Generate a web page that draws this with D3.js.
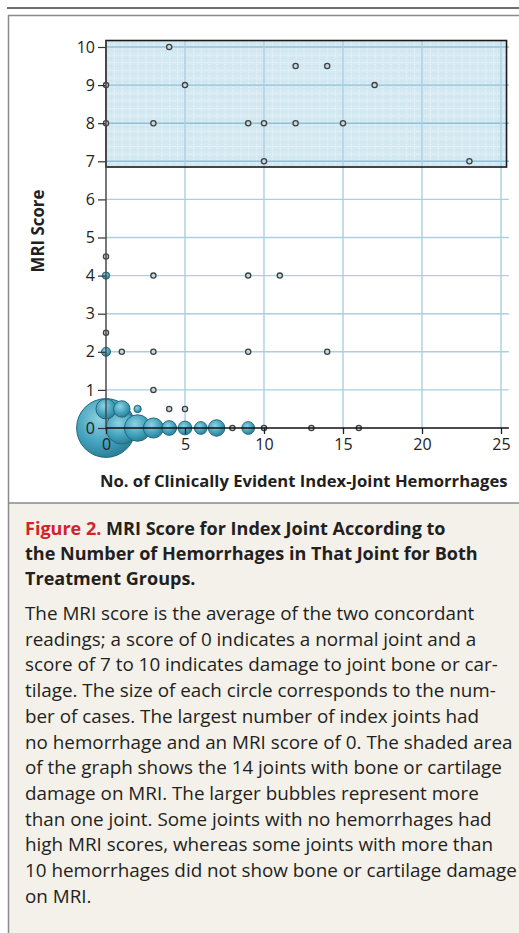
<!DOCTYPE html>
<html><head><meta charset="utf-8">
<script src="https://cdn.jsdelivr.net/npm/d3@7"></script>
<style>html,body{margin:0;padding:0;background:#fff;} svg{display:block;}</style>
</head><body>
<svg id="fig" width="519" height="933"></svg>
<script>
// ---- data ----
const hemorrhages = [0,1,2,3,4,5,6,7,8,9,10,13,16, 0,1,2,4,5, 3, 0,1,3,9,14,0, 0,3,9,11,0, 0,3,9,10,12,15,0,5,17,12,14,4,10,23];
const mriScores   = [0,0,0,0,0,0,0,0,0,0,0,0,0, 0.5,0.5,0.5,0.5,0.5, 1, 2,2,2,2,2,2.5, 4,4,4,4,4.5, 8,8,8,8,8,8,9,9,9,9.5,9.5,10,7,7];
const jointCounts = [128,38,26,15,8,7,6,10,1,6,1,1,1, 15,10,2,1,1, 1, 3,1,1,1,1,1, 2,1,1,1,1, 1,1,1,1,1,1,1,1,1,1,1,1,1,1];
const xTickValues = [0,5,10,15,20,25];
const yTickValues = [0,1,2,3,4,5,6,7,8,9,10];
const shadedX = [0, 25.35];
const shadedY = [6.85, 10.17];
const xAxisTitle = "No. of Clinically Evident Index-Joint Hemorrhages";
const yAxisTitle = "MRI Score";
const figureLabel = "Figure 2.";
const titleLines = [" MRI Score for Index Joint According to",
  "the Number of Hemorrhages in That Joint for Both",
  "Treatment Groups."];
const bodyLines = [
  "The MRI score is the average of the two concordant",
  "readings; a score of 0 indicates a normal joint and a",
  "score of 7 to 10 indicates damage to joint bone or car-",
  "tilage. The size of each circle corresponds to the num-",
  "ber of cases. The largest number of index joints had",
  "no hemorrhage and an MRI score of 0. The shaded area",
  "of the graph shows the 14 joints with bone or cartilage",
  "damage on MRI. The larger bubbles represent more",
  "than one joint. Some joints with no hemorrhages had",
  "high MRI scores, whereas some joints with more than",
  "10 hemorrhages did not show bone or cartilage damage",
  "on MRI."];

const FONT = "'Open Sans', 'Noto Sans', sans-serif";
const svg = d3.select("#fig");
function fit(sel, target) {
  const w = sel.node().getComputedTextLength();
  const fs = parseFloat(sel.attr("font-size"));
  return fs * target / w;
}

// ---- frame ----
svg.append("rect").attr("x", 8).attr("y", 503).attr("width", 511).attr("height", 430).attr("fill", "#f4f1ea");
svg.append("line").attr("x1", 7).attr("x2", 519).attr("y1", 8).attr("y2", 8).attr("stroke", "#6e6e6e").attr("stroke-width", 2);
svg.append("line").attr("x1", 8).attr("x2", 519).attr("y1", 15.5).attr("y2", 15.5).attr("stroke", "#8a8a8a").attr("stroke-width", 1.5);
svg.append("line").attr("x1", 8.5).attr("x2", 8.5).attr("y1", 15).attr("y2", 933).attr("stroke", "#8a8a8a").attr("stroke-width", 1.5);
svg.append("line").attr("x1", 8).attr("x2", 519).attr("y1", 503).attr("y2", 503).attr("stroke", "#8a8a8a").attr("stroke-width", 1.5);

// ---- scales ----
const x = d3.scaleLinear().domain([0, 25]).range([106, 501]);
const y = d3.scaleLinear().domain([0, 10]).range([428, 47]);
const r = d3.scaleSqrt().domain([0, d3.max(jointCounts)]).range([0, 29.4]);

const defs = svg.append("defs");
const grad = defs.append("radialGradient").attr("id", "bub").attr("cx", "40%").attr("cy", "35%").attr("r", "70%");
grad.append("stop").attr("offset", "0%").attr("stop-color", "#8fd2e2");
grad.append("stop").attr("offset", "60%").attr("stop-color", "#42a1bc");
grad.append("stop").attr("offset", "100%").attr("stop-color", "#287a93");
const pw = (x(0.5) - x(0)), ph = (y(0) - y(0.2));
const pat = defs.append("pattern").attr("id", "paper").attr("patternUnits", "userSpaceOnUse")
  .attr("x", x(0)).attr("y", y(10)).attr("width", pw).attr("height", ph);
pat.append("rect").attr("width", pw).attr("height", ph).attr("fill", "#d4e9f2");
pat.append("line").attr("x1", 0).attr("x2", pw).attr("y1", 0.5).attr("y2", 0.5).attr("stroke", "#f2f8fb").attr("stroke-width", 1).attr("stroke-dasharray", "1,1");
pat.append("line").attr("x1", 0.5).attr("x2", 0.5).attr("y1", 0).attr("y2", ph).attr("stroke", "#f2f8fb").attr("stroke-width", 1).attr("stroke-dasharray", "1,1");
pat.append("line").attr("x1", 0).attr("x2", pw).attr("y1", ph/2).attr("y2", ph/2).attr("stroke", "#bfdcea").attr("stroke-width", 0.8).attr("stroke-dasharray", "1,1.5");

// shaded area fill
const sx0 = x(shadedX[0]), sx1 = x(shadedX[1]), sy0 = y(shadedY[1]), sy1 = y(shadedY[0]);
svg.append("rect").attr("x", sx0).attr("y", sy0).attr("width", sx1 - sx0).attr("height", sy1 - sy0).attr("fill", "url(#paper)");

// grid
const grid = svg.append("g");
grid.selectAll("line.h").data(yTickValues.filter(d => d > 0)).join("line")
  .attr("x1", x(0)).attr("x2", x(25.5)).attr("y1", d => y(d)).attr("y2", d => y(d))
  .attr("stroke", d => d >= 7 ? "#8fc0d6" : "#a9cfe1").attr("stroke-width", 1.4);
grid.selectAll("line.v").data(xTickValues.filter(d => d > 0)).join("line")
  .attr("x1", d => x(d)).attr("x2", d => x(d)).attr("y1", y(0)).attr("y2", y(shadedY[1]))
  .attr("stroke", "#a9cfe1").attr("stroke-width", 1.4);

// shaded border
svg.append("rect").attr("x", sx0).attr("y", sy0).attr("width", sx1 - sx0).attr("height", sy1 - sy0)
  .attr("fill", "none").attr("stroke", "#1a1a1a").attr("stroke-width", 1.6);

// bubbles
const pts = hemorrhages.map((h, i) => ({h, m: mriScores[i], n: jointCounts[i]}))
  .sort((a, b) => b.n - a.n);
svg.append("g").selectAll("circle").data(pts).join("circle")
  .attr("cx", d => x(d.h)).attr("cy", d => y(d.m)).attr("r", d => r(d.n))
  .attr("fill", d => d.n > 1 ? "url(#bub)" : "#c3d9e0")
  .attr("stroke", d => d.n > 1 ? "#24697d" : "#404040")
  .attr("stroke-width", d => d.n > 1 ? 1 : 1.3);

// axes
const yAxis = svg.append("g").attr("transform", `translate(${x(0)},0)`)
  .call(d3.axisLeft(y).tickValues(yTickValues).tickSize(8).tickPadding(3).tickFormat(d3.format("d")));
yAxis.select(".domain").remove();
yAxis.selectAll(".tick line").attr("stroke", "#333").attr("stroke-width", 1.2);
yAxis.selectAll(".tick text").attr("font-family", FONT).attr("font-size", 16).attr("fill", "#222");
svg.append("line").attr("x1", x(0)).attr("x2", x(0)).attr("y1", y(shadedY[1])).attr("y2", y(0))
  .attr("stroke", "#4a4a4a").attr("stroke-width", 1.5);

const xAxis = svg.append("g").attr("transform", `translate(0,${y(0)})`)
  .call(d3.axisBottom(x).tickValues(xTickValues).tickSize(6).tickPadding(5));
xAxis.select(".domain").remove();
xAxis.selectAll(".tick line").attr("stroke", "#222").attr("stroke-width", 1.3);
xAxis.selectAll(".tick text").attr("font-family", FONT).attr("font-size", 16).attr("fill", "#222");
svg.append("line").attr("x1", x(0)).attr("x2", x(25.5)).attr("y1", y(0)).attr("y2", y(0))
  .attr("stroke", "#111").attr("stroke-width", 1.6);

// axis titles
const xt = svg.append("text").attr("x", 100).attr("y", 487).attr("font-family", FONT)
  .attr("font-weight", 700).attr("font-size", 15).attr("fill", "#231f20").text(xAxisTitle);
xt.attr("font-size", fit(xt, 408));
const yt = svg.append("text").attr("transform", "translate(44,231) rotate(-90)").attr("text-anchor", "middle")
  .attr("font-family", FONT).attr("font-weight", 700).attr("font-size", 15).attr("fill", "#231f20").text(yAxisTitle);
yt.attr("font-size", fit(yt, 83));

// caption title
const tBase = [535, 560, 585];
const tg = svg.append("g").attr("font-family", FONT).attr("font-weight", 700).attr("fill", "#231f20");
const probe = tg.append("text").attr("font-size", 17).text(titleLines[1]);
const tfs = fit(probe, 453);
probe.remove();
titleLines.forEach((line, i) => {
  const t = tg.append("text").attr("x", 25).attr("y", tBase[i]).attr("font-size", tfs);
  if (i === 0) t.append("tspan").attr("fill", "#d2232a").text(figureLabel);
  t.append("tspan").text(line);
});

// caption body
const bg = svg.append("g").attr("font-family", FONT).attr("fill", "#231f20");
const probe2 = bg.append("text").attr("font-size", 16).text(bodyLines[5]);
const bfs = fit(probe2, 488);
probe2.remove();
bodyLines.forEach((line, i) => {
  bg.append("text").attr("x", 25).attr("y", 620 + i * 25.7).attr("font-size", bfs).text(line);
});
</script>
</body></html>
